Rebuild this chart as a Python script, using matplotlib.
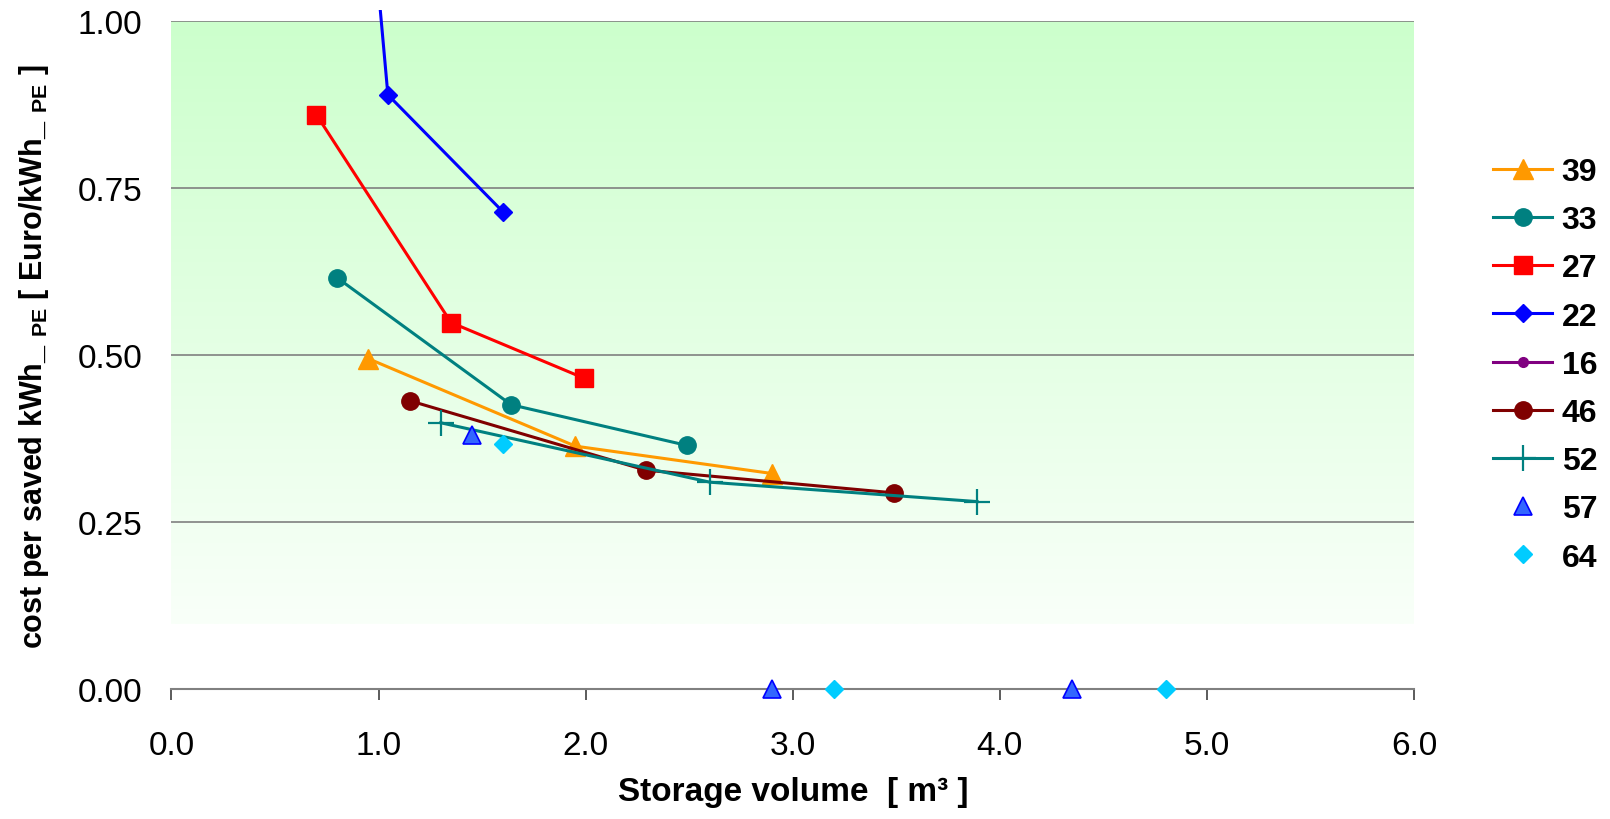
import numpy as np
import matplotlib
matplotlib.use("Agg")
import matplotlib.pyplot as plt
from matplotlib.patches import Rectangle

plt.rcParams["font.family"] = ["Liberation Sans", "DejaVu Sans"]
plt.rcParams["mathtext.default"] = "regular"

# --- data ---
x39 = [0.95, 1.95, 2.90]
y39 = [0.495, 0.364, 0.323]
x33 = [0.80, 1.64, 2.49]
y33 = [0.616, 0.426, 0.365]
x27 = [0.70, 1.35, 1.99]
y27 = [0.860, 0.549, 0.466]
x22 = [0.53, 1.045, 1.60]
y22 = [2.67, 0.890, 0.715]
x16 = []
y16 = []
x46 = [1.15, 2.29, 3.49]
y46 = [0.432, 0.328, 0.294]
x52 = [1.30, 2.60, 3.89]
y52 = [0.399, 0.310, 0.281]
x57 = [1.45, 2.90, 4.35]
y57 = [0.381, 0.0, 0.0]
x64 = [1.60, 3.20, 4.80]
y64 = [0.367, 0.0, 0.0]

xticks = [0, 1, 2, 3, 4, 5, 6]
yticks = [0.0, 0.25, 0.5, 0.75, 1.0]

fig = plt.figure(figsize=(16.1, 8.2), dpi=100)
ax = fig.add_axes([0.1065, 0.1582, 0.7718, 0.8146])

# green gradient plot area (ends a bit above zero like the original)
top = np.array([204, 255, 204]) / 255
bot = np.array([249, 255, 249]) / 255
t = np.linspace(0, 1, 256)[:, None]
grad = top[None, :] * (1 - t) + bot[None, :] * t
ax.imshow(grad[:, None, :], extent=[0, 6, 0.098, 1.0], aspect="auto", zorder=0,
          interpolation="bilinear")

for yv in yticks[1:]:
    ax.axhline(yv, color="#808080", lw=1.2, zorder=1)

lw = 2.2
ax.plot(x39, y39, color="#FF9900", lw=lw, marker="^", ms=14, mec="#FF9900", label="39", zorder=3)
ax.plot(x33, y33, color="#008080", lw=lw, marker="o", ms=12.5, mec="#008080", label="33", zorder=3)
ax.plot(x27, y27, color="#FF0000", lw=lw, marker="s", ms=12.5, mec="#FF0000", label="27", zorder=3)
l22, = ax.plot(x22, y22, color="#0000FF", lw=lw, marker="D", ms=9.5, mec="#0000FF", label="22", zorder=3)
ax.plot(x16, y16, color="#800080", lw=lw, marker="o", ms=7, mec="#800080", label="16", zorder=3)
ax.plot(x46, y46, color="#800000", lw=lw, marker="o", ms=12.5, mec="#800000", label="46", zorder=3)
ax.plot(x52, y52, color="#008080", lw=lw, marker="+", ms=19, mew=1.6, label="52", zorder=3)
ax.plot(x57, y57, ls="none", marker="^", ms=12.5, mfc="#3366FF", mec="#0000FF", mew=1.2,
        label="57", zorder=4, clip_on=False)
ax.plot(x64, y64, ls="none", marker="D", ms=9.5, mfc="#00CCFF", mec="#00CCFF",
        label="64", zorder=4, clip_on=False)

# series 22 runs a little past the top of the plot area
clip = Rectangle((0, -0.05), 6, 1.067, transform=ax.transData)
l22.set_clip_path(clip)

ax.set_xlim(0, 6)
ax.set_ylim(0, 1)
ax.set_xticks(xticks)
ax.set_xticklabels([f"{v:.1f}" for v in xticks])
ax.set_yticks(yticks)
ax.set_yticklabels([f"{v:.2f}" for v in yticks])
ax.tick_params(axis="x", length=8, width=1.2, color="#404040", pad=21, labelsize=24)
ax.tick_params(axis="y", length=0, pad=21, labelsize=24)
for s in ["left", "top", "right"]:
    ax.spines[s].set_visible(False)
ax.spines["bottom"].set_color("#808080")
ax.spines["bottom"].set_linewidth(1.5)
ax.spines["bottom"].set_zorder(2)

fig.text(792.8 / 1610, 1 - 801 / 820, "Storage volume  [ m³ ]", ha="center", va="baseline",
         fontsize=24, fontweight="bold")
fig.text(42 / 1610, 1 - 357 / 820,
         r"cost per saved kWh_ $_{PE}$ [ Euro/kWh_ $_{PE}$ ]",
         rotation=90, rotation_mode="anchor", ha="center", va="baseline",
         fontsize=22, fontweight="bold")

leg = fig.legend(loc="upper left", bbox_to_anchor=(1493 / 1610, 1 - 158 / 820),
                 frameon=False, prop={"size": 23, "weight": "bold"},
                 handlelength=1.85, handletextpad=0.3, labelspacing=0.57,
                 borderpad=0, borderaxespad=0)

fig.savefig("out.png", dpi=100)
